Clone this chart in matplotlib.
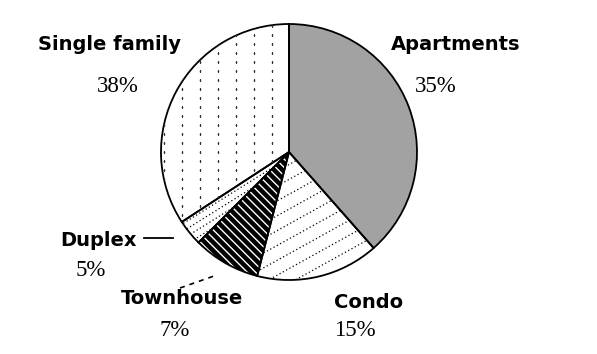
import numpy as np
import matplotlib
matplotlib.use("Agg")
import matplotlib.pyplot as plt

matplotlib.rcParams['hatch.linewidth'] = 1.0

# slice sizes as drawn (clockwise from 12 o'clock)
categories = ["Apartments", "Condo", "Townhouse", "Duplex", "Single family"]
sizes = [38.5, 15.5, 8.5, 3.3, 34.2]
pct_labels = ["35%", "15%", "7%", "5%", "38%"]

W, H = 597, 354
fig = plt.figure(figsize=(W / 100, H / 100), dpi=100)
ax = fig.add_axes([0, 0, 1, 1])


def py(y):
    return H - y


center = (289, py(152))
radius = 128

wedges, _ = ax.pie(sizes, startangle=90, counterclock=False,
                   center=center, radius=radius, frame=True)
for w in wedges:
    w.set_facecolor('white')
    w.set_linewidth(0)

ap, co, th, du, sf = wedges
ap.set_facecolor('#a2a2a2')
th.set_facecolor('black')
th.set_hatch('\\\\\\\\')
th.set_edgecolor('white')


def dotted_lines(wedge, angle, spacing, step_dash=(1, 2)):
    # parallel dotted lines clipped to a wedge
    cx, cy = center
    t = np.deg2rad(angle)
    d = np.array([np.cos(t), np.sin(t)])
    n = np.array([-np.sin(t), np.cos(t)])
    for k in np.arange(-radius, radius, spacing):
        p0 = np.array(center) + n * k - d * radius * 1.2
        p1 = np.array(center) + n * k + d * radius * 1.2
        ln, = ax.plot([p0[0], p1[0]], [p0[1], p1[1]], color='black', lw=0.9,
                      ls=(0, step_dash))
        ln.set_clip_path(wedge)


def dot_grid(wedge, dx, dy):
    xs = np.arange(center[0] - radius, center[0] + radius, dx) + 3
    ys = np.arange(center[1] - radius, center[1] + radius, dy) + 2
    gx, gy = np.meshgrid(xs, ys)
    pts, = ax.plot(gx.ravel(), gy.ravel(), ls='none', marker='s', ms=1.1,
                   mec='none', mfc='#333333')
    pts.set_clip_path(wedge)


dotted_lines(co, 29, 13)
dotted_lines(du, 32, 6.5)
dot_grid(sf, 18, 9)

# outline layer
ax.pie(sizes, startangle=90, counterclock=False,
       center=center, radius=radius, frame=True,
       wedgeprops=dict(fill=False, edgecolor='black', linewidth=1.3))
ax.set_xlim(0, W)
ax.set_ylim(0, H)
ax.set_aspect('equal')
ax.axis('off')

name_font = dict(family='DejaVu Sans', fontweight='bold', fontsize=14, color='black')
pct_font = dict(family='Liberation Serif', fontsize=16.5, color='black')

name_pos = {"Single family": (109, 45), "Apartments": (456, 45),
            "Duplex": (98, 240), "Townhouse": (182, 298), "Condo": (369, 302)}
pct_pos = {"38%": (118, 87), "35%": (436, 87), "5%": (91, 270),
           "7%": (175, 330), "15%": (355, 330)}

for name in categories:
    x, y = name_pos[name]
    ax.text(x, py(y), name, ha='center', va='center', **name_font)
for p in pct_labels:
    x, y = pct_pos[p]
    ax.text(x, py(y), p, ha='center', va='center', **pct_font)

# leader lines
ax.plot([144, 173], [py(238), py(238)], color='black', lw=1.3)
ax.plot([180, 214], [py(288), py(276)], color='black', lw=1.2, ls=(0, (3, 3)))

fig.savefig("out.png", dpi=100)
